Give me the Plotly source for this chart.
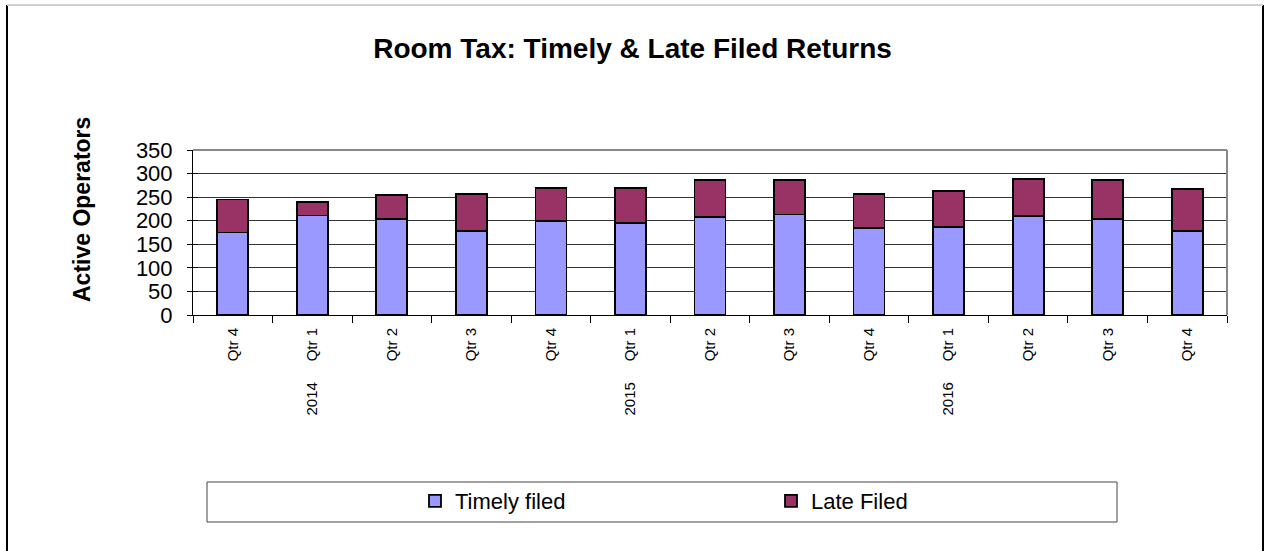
import plotly.graph_objects as go

# ---- data ----
periods = ["2013 Qtr 4", "2014 Qtr 1", "2014 Qtr 2", "2014 Qtr 3", "2014 Qtr 4",
           "2015 Qtr 1", "2015 Qtr 2", "2015 Qtr 3", "2015 Qtr 4",
           "2016 Qtr 1", "2016 Qtr 2", "2016 Qtr 3", "2016 Qtr 4"]
quarter_labels = ["Qtr 4", "Qtr 1", "Qtr 2", "Qtr 3", "Qtr 4", "Qtr 1", "Qtr 2",
                  "Qtr 3", "Qtr 4", "Qtr 1", "Qtr 2", "Qtr 3", "Qtr 4"]
year_labels = ["", "2014", "", "", "", "2015", "", "", "", "2016", "", "", ""]
timely_filed = [175, 211, 204, 178, 200, 196, 208, 213, 184, 187, 210, 204, 178]
late_filed = [70, 29, 50, 79, 70, 74, 79, 74, 72, 76, 79, 82, 90]
y_ticks = [0, 50, 100, 150, 200, 250, 300, 350]

FONT = "Liberation Sans, Arial, sans-serif"
NB = "\u00a0"
tick_text = [(y + NB * 5 + q) if y else q for y, q in zip(year_labels, quarter_labels)]

# plot-area pixel geometry
L, R, T, B = 193, 38, 150, 236
W, H = 1265, 551
pw, ph = W - L - R, H - T - B


def px_x(x):
    return (x - L) / pw


def px_y(y):
    return (H - B - y) / ph


fig = go.Figure()
fig.add_trace(go.Bar(x=periods, y=timely_filed, name="Timely filed",
                     marker=dict(color="#9999FF", line=dict(color="black", width=1.8))))
fig.add_trace(go.Bar(x=periods, y=late_filed, name="Late Filed",
                     marker=dict(color="#993366", line=dict(color="black", width=1.8))))

fig.update_layout(
    width=W, height=H,
    barmode="stack", bargap=0.61,
    margin=dict(l=L, r=R, t=T, b=B, pad=0),
    paper_bgcolor="white", plot_bgcolor="white",
    font=dict(family=FONT, color="black"),
    title=dict(text="<b>Room Tax: Timely & Late Filed Returns</b>",
               font=dict(size=28, family=FONT, color="black"),
               x=0.5, xref="container", xanchor="center",
               y=1 - 48 / H, yref="container", yanchor="middle"),
    showlegend=True,
    legend=dict(orientation="h", x=px_x(415), xanchor="left",
                y=px_y(501), yanchor="middle",
                font=dict(size=22, family=FONT, color="black"),
                entrywidth=311, entrywidthmode="pixels",
                bgcolor="rgba(0,0,0,0)", borderwidth=0, traceorder="normal"),
    xaxis=dict(type="category", tickmode="array", tickvals=periods, ticktext=tick_text,
               range=[-0.5, len(periods) - 0.5], autorange=False,
               tickangle=-90, tickfont=dict(size=15, family=FONT, color="black"),
               showgrid=False, showline=True, linecolor="black", linewidth=1,
               ticks="outside", ticklen=7, tickcolor="black", tickson="boundaries",
               ticklabelstandoff=6, zeroline=False),
    yaxis=dict(range=[0, 350], tickvals=y_ticks, tickfont=dict(size=22, family=FONT, color="black"),
               showgrid=True, gridcolor="#333333", gridwidth=1,
               showline=True, linecolor="black", linewidth=1,
               ticks="outside", ticklen=5, tickcolor="black",
               ticklabelstandoff=10, zeroline=False),
    yaxis2=dict(range=[0, 350], tickvals=y_ticks, overlaying="y", side="left",
                showticklabels=False, showgrid=False, ticks="inside", ticklen=5,
                tickcolor="black", showline=False, zeroline=False),
)

# y-axis title
fig.add_annotation(text="<b>Active Operators</b>", textangle=-90,
                   xref="paper", yref="paper", x=px_x(67), y=px_y(210),
                   showarrow=False, font=dict(size=23, family=FONT, color="black"))

shapes = [
    # plot-area border (top / right gray)
    dict(type="line", xref="paper", yref="paper", x0=0, x1=1, y0=1, y1=1,
         line=dict(color="#888888", width=2)),
    dict(type="line", xref="paper", yref="paper", x0=1, x1=1, y0=0, y1=1,
         line=dict(color="#888888", width=2)),
    # legend box
    dict(type="rect", xref="paper", yref="paper", x0=px_x(207), x1=px_x(1117),
         y0=px_y(482), y1=px_y(522), line=dict(color="#444444", width=1)),
    # outer chart frame
    dict(type="line", xref="paper", yref="paper", x0=px_x(7), x1=px_x(7),
         y0=px_y(5), y1=px_y(560), line=dict(color="black", width=2)),
    dict(type="line", xref="paper", yref="paper", x0=px_x(1263), x1=px_x(1263),
         y0=px_y(5), y1=px_y(560), line=dict(color="black", width=2)),
    dict(type="line", xref="paper", yref="paper", x0=px_x(7), x1=px_x(1263),
         y0=px_y(5), y1=px_y(5), line=dict(color="#d0d0d0", width=2)),
]
fig.update_layout(shapes=shapes)

# invisible trace to activate the inner tick marks of yaxis2
fig.add_trace(go.Scatter(x=[periods[0]], y=[0], yaxis="y2", mode="markers",
                         marker=dict(opacity=0, size=1), showlegend=False, hoverinfo="skip"))

fig.write_html("out.html", config={"displayModeBar": False},
               post_script="document.body.style.margin='0';document.body.style.overflow='hidden';")
